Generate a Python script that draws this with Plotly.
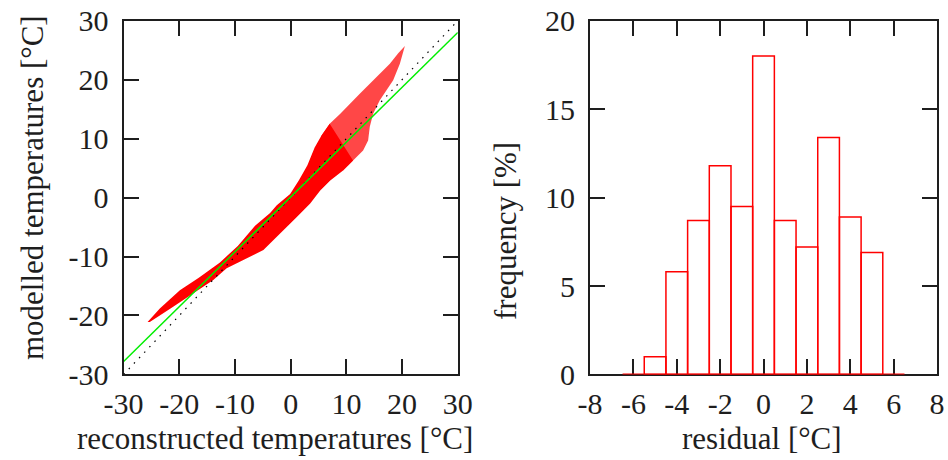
import plotly.graph_objects as go

# ---------------------------------------------------------------
# left panel: modelled vs reconstructed temperatures
# outline of the red point cloud (upper edge and lower edge)
cloud_upper_x = [-25.7, -23.5, -19.9, -16.5, -12.7, -9.5, -6.4, -3.7, -2.5, -0.1, 1.5, 3.0,
                 4.3, 5.5, 7.0, 8.9, 10.6, 12.4, 14.2, 16.0, 17.8, 19.3, 20.5]
cloud_upper_y = [-21.1, -18.8, -15.7, -13.6, -11.0, -8.2, -4.8, -2.6, -1.3, 0.6, 3.0, 5.5,
                 8.5, 10.5, 12.5, 14.2, 15.9, 17.6, 19.3, 21.0, 22.7, 24.5, 25.7]
cloud_lower_x = [-25.3, -21.1, -17.5, -13.9, -11.5, -8.5, -4.9, -3.1, -1.3, 1.1, 3.5, 5.3,
                 7.1, 9.4, 11.2, 13.0, 13.9, 14.2, 14.8, 16.0, 17.2, 18.4, 19.6]
cloud_lower_y = [-21.1, -18.5, -16.3, -14.0, -12.0, -10.6, -8.9, -7.2, -5.5, -3.3, -1.0, 1.2,
                 2.9, 4.6, 6.3, 8.0, 9.7, 12.0, 14.2, 16.5, 18.2, 19.9, 22.7]

# regression line and 1:1 line
fit_x = [-30, 30]
fit_y = [-27.8, 28.0]
diag_x = [-30, 30]
diag_y = [-30, 30]

temp_ticks = [-30, -20, -10, 0, 10, 20, 30]

# ---------------------------------------------------------------
# right panel: histogram of residuals
resid_bins = [-6, -5, -4, -3, -2, -1, 0, 1, 2, 3, 4, 5, 6]
resid_freq = [0, 1.0, 5.8, 8.7, 11.8, 9.5, 18.0, 8.7, 7.2, 13.4, 8.9, 6.9, 0]

resid_ticks = [-8, -6, -4, -2, 0, 2, 4, 6, 8]
freq_ticks = [0, 5, 10, 15, 20]

FONT = "Liberation Serif"
INK = "#1e1e1e"

# dense part of the cloud / sparse streaky top part
n_dense_up, n_dense_lo = 15, 15
dense_x = cloud_upper_x[:n_dense_up] + cloud_lower_x[:n_dense_lo][::-1]
dense_y = cloud_upper_y[:n_dense_up] + cloud_lower_y[:n_dense_lo][::-1]
sparse_x = cloud_upper_x[13:] + cloud_lower_x[13:][::-1]
sparse_y = cloud_upper_y[13:] + cloud_lower_y[13:][::-1]

fig = go.Figure()

fig.add_trace(go.Scatter(x=sparse_x, y=sparse_y, fill="toself", mode="lines",
                         line=dict(width=0), fillcolor="rgba(255,0,0,0.72)",
                         xaxis="x", yaxis="y", hoverinfo="skip"))
fig.add_trace(go.Scatter(x=dense_x, y=dense_y, fill="toself", mode="lines",
                         line=dict(width=0), fillcolor="#ff0000",
                         xaxis="x", yaxis="y", hoverinfo="skip"))
fig.add_trace(go.Scatter(x=diag_x, y=diag_y, mode="lines",
                         line=dict(color="black", width=1.2, dash="1.5px,6px"),
                         xaxis="x", yaxis="y"))
fig.add_trace(go.Scatter(x=fit_x, y=fit_y, mode="lines",
                         line=dict(color="#00ee00", width=1.5),
                         xaxis="x", yaxis="y"))

# histogram boxes (empty, red outline)
bars = [(b, f) for b, f in zip(resid_bins, resid_freq) if f > 0]
fig.add_trace(go.Bar(x=[b for b, _ in bars], y=[f for _, f in bars], width=1,
                     marker=dict(color="rgba(0,0,0,0)", line=dict(color="#ff0000", width=1.5)),
                     xaxis="x2", yaxis="y2"))
fig.add_trace(go.Scatter(x=[resid_bins[0] - 0.5, resid_bins[-1] + 0.5], y=[0, 0], mode="lines",
                         line=dict(color="#ff0000", width=2), xaxis="x2", yaxis="y2"))

axis_style = dict(showgrid=False, zeroline=False, showline=True, linecolor=INK, linewidth=2,
                  mirror="ticks", ticks="inside", ticklen=15, tickwidth=2, tickcolor=INK,
                  automargin=False,
                  tickfont=dict(family=FONT, size=30, color=INK))

y_dom = [0.186, 0.955]
fig.update_layout(
    width=948, height=460,
    margin=dict(l=0, r=0, t=0, b=0),
    paper_bgcolor="white", plot_bgcolor="white",
    showlegend=False,
    xaxis=dict(axis_style, domain=[0.1304, 0.4829], range=[-30, 30], anchor="y",
               tickvals=temp_ticks, ticktext=[str(t) for t in temp_ticks], ticklabelstandoff=2),
    yaxis=dict(axis_style, domain=y_dom, range=[-30, 30], anchor="x",
               tickvals=temp_ticks, ticktext=[str(t) for t in temp_ticks], ticklabelstandoff=7),
    xaxis2=dict(axis_style, domain=[0.6224, 0.9884], range=[-8, 8], anchor="y2", layer="below traces",
                tickvals=resid_ticks, ticktext=[str(t) for t in resid_ticks], ticklabelstandoff=2),
    yaxis2=dict(axis_style, domain=y_dom, range=[0, 20], anchor="x2", layer="below traces",
                tickvals=freq_ticks, ticktext=[str(t) for t in freq_ticks], ticklabelstandoff=7),
)

title_font = dict(family=FONT, size=31, color=INK)
titles = [
    ("reconstructed temperatures [°C]", 275, 438, 0),
    ("modelled temperatures [°C]", 32, 188, -90),
    ("residual [°C]", 762, 438, 0),
    ("frequency [%]", 505, 231, -90),
]
for txt, px, py, ang in titles:
    fig.add_annotation(text=txt, x=px / 948, y=1 - py / 460, textangle=ang,
                       xref="paper", yref="paper", xanchor="center", yanchor="middle",
                       showarrow=False, font=title_font)

fig.write_html("out.html", config={"displayModeBar": False},
               post_script="document.body.style.margin='0';")
